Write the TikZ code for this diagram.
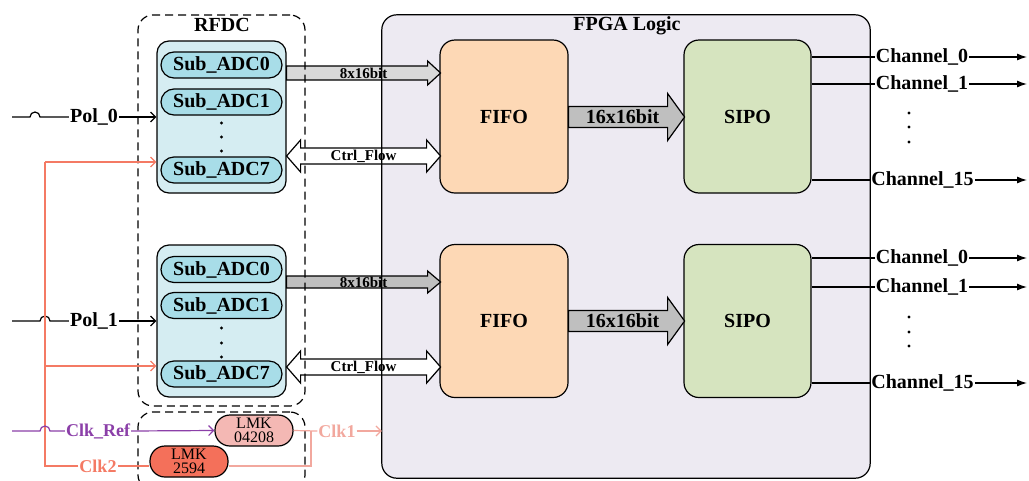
\documentclass[tikz,border=0pt]{standalone}
\usepackage{fontspec}
\setmainfont{Liberation Serif}
\usetikzlibrary{arrows.meta,positioning,calc}

\definecolor{fpgafill}{HTML}{EDEAF2}
\definecolor{adcfill}{HTML}{D5EDF2}
\definecolor{subfill}{HTML}{A8DDE8}
\definecolor{fifofill}{HTML}{FDD8B5}
\definecolor{sipofill}{HTML}{D6E4BF}
\definecolor{lmkafill}{HTML}{F4B8B4}
\definecolor{lmkbfill}{HTML}{F4705A}
\definecolor{refcol}{HTML}{8B3FA8}
\definecolor{clkonecol}{HTML}{F2A89E}
\definecolor{clktwocol}{HTML}{F47A64}
\definecolor{buslight}{HTML}{D9D9D9}
\definecolor{busdark}{HTML}{BFBFBF}

\begin{document}
\begin{tikzpicture}[x=1pt, y=-1pt,
    block/.style={
        draw,
        line width=1.2pt,
        rounded corners=15pt,
        minimum width=128pt,
        minimum height=153pt,
        inner sep=0pt,
        font=\fontsize{20}{22}\selectfont\bfseries
        },
    adcgroup/.style={
        draw,
        line width=1.2pt,
        rounded corners=12pt,
        fill=adcfill,
        minimum width=129pt,
        minimum height=152pt
        },
    subadc/.style={
        draw,
        line width=1.2pt,
        rounded corners=13pt,
        fill=subfill,
        minimum width=121pt,
        minimum height=26pt,
        inner sep=0pt,
        font=\fontsize{20}{22}\selectfont\bfseries
        },
    dashbox/.style={
        draw,
        line width=1.2pt,
        dash pattern=on 8pt off 5pt,
        rounded corners=15pt,
        minimum width=167pt
        },
    lmk/.style={
        draw,
        line width=1.2pt,
        rounded corners=15pt,
        minimum width=78pt,
        minimum height=31pt,
        inner sep=0pt,
        align=center,
        font=\fontsize{16}{14.5}\selectfont
        },
    title/.style={inner sep=0pt, font=\fontsize{20}{22}\selectfont\bfseries},
    lbl/.style={inner sep=1pt, font=\fontsize{20}{22}\selectfont\bfseries},
    clklbl/.style={inner sep=1pt, font=\fontsize{18}{20}\selectfont\bfseries},
    buslbl/.style={inner sep=0pt, font=\fontsize{15}{15}\selectfont\bfseries},
    bus/.style={draw, line width=1.2pt, line join=miter},
    wire/.style={line width=1.2pt},
    redwire/.style={line width=1.2pt, draw=clktwocol},
    vtip/.style={-{Straight Barb[length=5pt,width=10pt]}},
    outtip/.style={-{Latex[length=10pt,width=7pt]}},
  ]
  \useasboundingbox (0,0) rectangle (1029,480);

  % FPGA area (fill only, outline later)
  \node[draw=none, fill=fpgafill, rounded corners=15pt, minimum width=488pt, minimum height=463pt] (fpga) at (626,246.5) {};
  \node[title] (fpgatitle) at (627,26) {FPGA Logic};
  \node[title] (rfdctitle) at (222,25) {RFDC};

  % ADC groups
  \node[adcgroup] (adcA) at (221.5,117) {};
  \node[subadc] (a0) at (221.5,65) {Sub\_ADC0};
  \node[subadc] (a1) at (221.5,102) {Sub\_ADC1};
  \node[subadc] (a7) at (221.5,170) {Sub\_ADC7};
  \foreach \y in {123,137,151} \fill (221.5,\y) circle (1.7pt);

  \node[adcgroup] (adcB) at (221.5,321) {};
  \node[subadc] (b0) at (221.5,269.5) {Sub\_ADC0};
  \node[subadc] (b1) at (221.5,305.5) {Sub\_ADC1};
  \node[subadc] (b7) at (221.5,374) {Sub\_ADC7};
  \foreach \y in {328,343,357} \fill (221.5,\y) circle (1.7pt);

  % FIFO and SIPO
  \node[block, fill=fifofill] (fifoA) at (504,116.5) {FIFO};
  \node[block, fill=sipofill, minimum width=127pt] (sipoA) at (747.5,116.5) {SIPO};
  \node[block, fill=fifofill] (fifoB) at (504,321) {FIFO};
  \node[block, fill=sipofill, minimum width=127pt] (sipoB) at (747.5,321) {SIPO};

  % bus arrows
  \coordinate (busA) at (adcA.east |- 0,73);
  \coordinate (ctrlA) at (adcA.east |- 0,156);
  \coordinate (busB) at (adcB.east |- 0,282);
  \coordinate (ctrlB) at (adcB.east |- 0,367);
  \coordinate (wideA) at (fifoA.east |- 0,117);
  \coordinate (wideB) at (fifoB.east |- 0,321);

  \draw[bus, fill=buslight, shift={(busA)}] (0,-7) -- (141,-7) -- (141,-12) -- (154,0) -- (141,12) -- (141,7) -- (0,7) -- cycle;
  \draw[bus, fill=busdark, shift={(busB)}] (0,-6) -- (141,-6) -- (141,-11) -- (154,0) -- (141,11) -- (141,6) -- (0,6) -- cycle;
  \draw[bus, fill=white, shift={(ctrlA)}] (0,0) -- (14,-16) -- (14,-8) -- (140,-8) -- (140,-16) -- (154,0) -- (140,16) -- (140,8) -- (14,8) -- (14,16) -- cycle;
  \draw[bus, fill=white, shift={(ctrlB)}] (0,0) -- (14,-16) -- (14,-8) -- (140,-8) -- (140,-16) -- (154,0) -- (140,16) -- (140,8) -- (14,8) -- (14,16) -- cycle;
  \draw[bus, fill=busdark, shift={(wideA)}] (0,-10.5) -- (99,-10.5) -- (99,-23.5) -- (116,0) -- (99,23.5) -- (99,10.5) -- (0,10.5) -- cycle;
  \draw[bus, fill=busdark, shift={(wideB)}] (0,-10.5) -- (99,-10.5) -- (99,-23.5) -- (116,0) -- (99,23.5) -- (99,10.5) -- (0,10.5) -- cycle;

  \node[buslbl] (busAlbl) at ($(busA)+(77,0)$) {8x16bit};
  \node[buslbl] (busBlbl) at ($(busB)+(77,0)$) {8x16bit};
  \node[buslbl] (ctrlAlbl) at ($(ctrlA)+(77,0)$) {Ctrl\_Flow};
  \node[buslbl] (ctrlBlbl) at ($(ctrlB)+(77,0)$) {Ctrl\_Flow};
  \node[title] (wideAlbl) at ($(wideA)+(54,0)$) {16x16bit};
  \node[title] (wideBlbl) at ($(wideB)+(54,0)$) {16x16bit};

  % outlines on top
  \draw[line width=1.2pt, rounded corners=15pt] (fpga.north west) rectangle (fpga.south east);
  \node[dashbox, minimum height=391pt] (rfdc) at (221.5,210.5) {};
  \node[dashbox, minimum height=78pt] (lmkbox) at (221.5,451) {};

  % inputs
  \coordinate (inedge) at (12,0);
  \coordinate (outedge) at (1027,0);
  \node[lbl] (pol0) at (94,117) {Pol\_0};
  \node[lbl] (pol1) at (94,321) {Pol\_1};
  \draw[wire] (inedge |- pol0) -- (30,117) arc (180:0:5pt) -- (pol0.west);
  \draw[wire, vtip] (pol0.east) -- (adcA.west |- pol0);
  \draw[wire] (inedge |- pol1) -- (40,321) arc (180:0:5pt) -- (pol1.west);
  \draw[wire, vtip] (pol1.east) -- (adcB.west |- pol1);

  % clocks
  \node[lmk, fill=lmkafill] (lmkA) at (254,430.5) {LMK\\04208};
  \node[lmk, fill=lmkbfill] (lmkB) at (189,461.5) {LMK\\2594};
  \node[clklbl, text=refcol] (clkref) at (98,431) {Clk\_Ref};
  \node[clklbl, text=clkonecol] (clk1) at (337,431) {Clk1};
  \node[clklbl, text=clktwocol] (clk2) at (98,466) {Clk2};

  \coordinate (bendA) at (45,162);
  \coordinate (bendB) at (45,366);
  \coordinate (joinC) at (311,431);

  \draw[redwire] (lmkB.west |- clk2) -- (clk2.east);
  \draw[redwire] (clk2.west) -| (bendA);
  \draw[redwire, vtip] (bendA) -- (bendA -| adcA.west);
  \draw[redwire, vtip] (bendB) -- (bendB -| adcB.west);

  \draw[wire, draw=refcol] (inedge |- clkref) -- (40,431) arc (180:0:5pt) -- (clkref.west);
  \draw[wire, draw=refcol, vtip] (clkref.east) -- (lmkA.west);

  \draw[wire, draw=clkonecol] (lmkA.east) -- (clk1.west);
  \draw[wire, draw=clkonecol] (lmkB.east |- 0,466) -| (joinC);
  \draw[wire, draw=clkonecol, vtip] (clk1.east) -- (clk1.east -| fpga.west);

  % outputs
  \node[lbl] (cA0) at (922,57) {Channel\_0};
  \node[lbl] (cA1) at (922,84) {Channel\_1};
  \node[lbl] (cA15) at (922.5,180) {Channel\_15};
  \node[lbl] (cB0) at (922,258) {Channel\_0};
  \node[lbl] (cB1) at (922,287) {Channel\_1};
  \node[lbl] (cB15) at (922.5,383) {Channel\_15};
  \foreach \s/\c in {sipoA/cA0, sipoA/cA1, sipoA/cA15, sipoB/cB0, sipoB/cB1, sipoB/cB15}{
    \draw[wire] (\s.east |- \c.west) -- (\c.west);
    \draw[wire, outtip] (\c.east) -- (\c.east -| outedge);
  }
  \foreach \y in {113,127,142,317,332,346} \fill (909,\y) circle (1.7pt);
\end{tikzpicture}
\end{document}
